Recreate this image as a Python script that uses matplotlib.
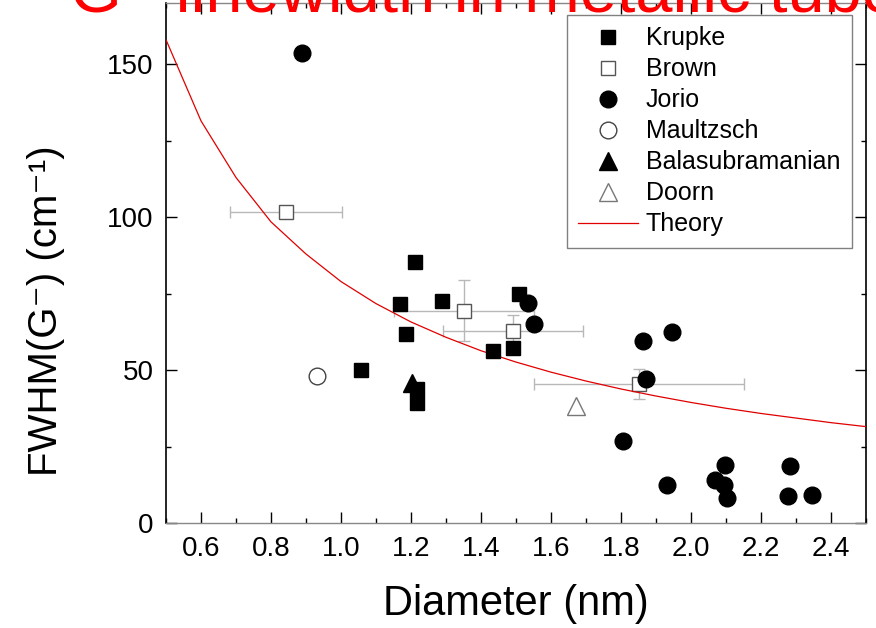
import matplotlib
matplotlib.use("Agg")
import matplotlib.pyplot as plt
from matplotlib.ticker import MultipleLocator

#data
krupke_d=[1.056,1.170,1.185,1.211,1.217,1.217,1.288,1.434,1.491,1.509]
krupke_w=[50.0,71.6,62.0,85.4,43.8,39.4,72.6,56.3,57.2,74.8]

brown_d=[0.842,1.352,1.491,1.853]
brown_w=[101.8,69.5,62.9,45.5]
brown_derr=[0.16,0.20,0.20,0.30]
brown_werr=[0,10,5,5]

jorio_d=[0.890,1.534,1.551,1.946,1.863,1.871,1.807,1.932,2.069,2.097,2.095,2.102,2.283,2.278,2.347]
jorio_w=[153.7,71.9,65.1,62.6,59.6,47.2,26.9,12.5,14.1,19.1,12.5,8.4,18.8,8.9,9.2]

maultzsch_d=[0.931]
maultzsch_w=[48.1]

bala_d=[1.204]
bala_w=[45.7]

doorn_d=[1.673]
doorn_w=[38.3]

theory_d=[0.5,0.6,0.7,0.8,0.9,1.0,1.1,1.2,1.3,1.4,1.5,1.6,1.7,1.8,1.9,2.0,2.1,2.2,2.3,2.4,2.5]
theory_w=[158,131.5,113,98.5,88,79,71.8,65.8,60.8,56.4,52.7,49.4,46.5,43.9,41.6,39.5,37.6,35.9,34.4,32.9,31.6]

plt.rcParams['font.family']=['Liberation Sans','DejaVu Sans']

fig=plt.figure(figsize=(8.76,6.28),dpi=100)
ax=fig.add_axes([0.1895,0.1667,0.7988,0.8285])

#error bars of Brown first so markers sit on top
ax.errorbar(brown_d,brown_w,xerr=brown_derr,yerr=brown_werr,fmt='none',
            ecolor='#b8b8b8',elinewidth=1,capsize=4,capthick=1,zorder=2)

ax.plot(krupke_d,krupke_w,'s',color='black',markersize=10.3,label='Krupke',zorder=4)
ax.plot(brown_d,brown_w,'s',markerfacecolor='white',markeredgecolor='#555555',
        markeredgewidth=1,markersize=10,label='Brown',zorder=3)
ax.plot(jorio_d,jorio_w,'o',color='black',markersize=12,label='Jorio',zorder=4)
ax.plot(maultzsch_d,maultzsch_w,'o',markerfacecolor='white',markeredgecolor='#444444',
        markeredgewidth=1,markersize=12,label='Maultzsch',zorder=3)
ax.plot(bala_d,bala_w,'^',color='black',markersize=13,label='Balasubramanian',zorder=3)
ax.plot(doorn_d,doorn_w,'^',markerfacecolor='white',markeredgecolor='#777777',
        markeredgewidth=1,markersize=13,label='Doorn',zorder=3)
ax.plot(theory_d,theory_w,'-',color='#e00000',linewidth=0.9,label='Theory',zorder=3)

ax.set_xlim(0.5,2.5)
ax.set_ylim(0,170)
ax.xaxis.set_major_locator(MultipleLocator(0.2))
ax.xaxis.set_minor_locator(MultipleLocator(0.1))
ax.yaxis.set_major_locator(MultipleLocator(50))
ax.yaxis.set_minor_locator(MultipleLocator(25))
ax.set_xticks([0.6,0.8,1.0,1.2,1.4,1.6,1.8,2.0,2.2,2.4])
ax.set_xticklabels(['0.6','0.8','1.0','1.2','1.4','1.6','1.8','2.0','2.2','2.4'])
ax.tick_params(which='both',direction='in',top=True,right=True,labelsize=20,pad=9)
ax.tick_params(which='major',length=8,width=1)
ax.tick_params(which='minor',length=3.6,width=1)
for s in ['left','right']:
    ax.spines[s].set_linewidth(1.2)
    ax.spines[s].set_color('black')
for s in ['top','bottom']:
    ax.spines[s].set_linewidth(1)
    ax.spines[s].set_color('#888888')

ax.set_xlabel('Diameter (nm)',fontsize=30,labelpad=16)

#squashed looking y label
fig.text(0.0525,0.505,'FWHM(G\u207b) (cm\u207b\u00b9)',rotation=90,ha='center',va='center',
         fontsize=29,family=['Liberation Sans Narrow','Liberation Sans','DejaVu Sans'])

leg=ax.legend(loc='upper left',bbox_to_anchor=(567/876,1-15/628),bbox_transform=fig.transFigure,
              fontsize=18,frameon=True,fancybox=False,framealpha=1,edgecolor='#808080',
              handlelength=2.4,handletextpad=0.3,labelspacing=0.28,borderpad=0.45,
              borderaxespad=0,numpoints=1)
leg.get_frame().set_linewidth(1)
leg.set_zorder(5)

#title sits mostly outside the figure, only its foot shows
fig.text(70/876,1-11/628,'G\u207b linewidth in metallic tubes',color='red',fontsize=48,
         ha='left',va='baseline',family=['Liberation Sans','DejaVu Sans'],zorder=10)

fig.savefig('out.png',dpi=100)
